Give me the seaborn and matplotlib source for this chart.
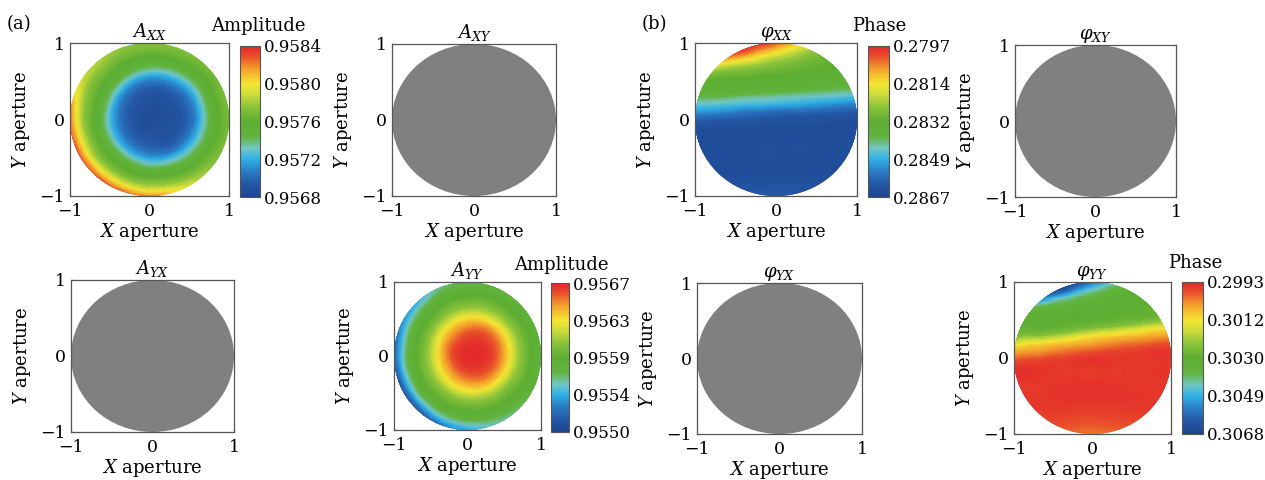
import numpy as np
import matplotlib
matplotlib.use("Agg")
import matplotlib.pyplot as plt
import matplotlib.tri as mtri
from matplotlib.colors import LinearSegmentedColormap, Normalize
from matplotlib.cm import ScalarMappable
from matplotlib.patches import Circle
import seaborn as sns

sns.set_theme(style="white")
plt.rcParams.update({
    "font.family": ["DejaVu Serif"],
    "mathtext.fontset": "dejavuserif",
    "font.size": 13,
    "text.color": "black",
    "axes.labelcolor": "black",
    "xtick.color": "black",
    "ytick.color": "black",
})

# ---------------------------------------------------------------------------
# Amplitude maps: sampled on rings x azimuths around the pupil centre
ring_radius = [0.25, 0.5, 0.65, 0.8, 0.92, 1.04]
azimuth_deg = [0, 30, 60, 90, 120, 150, 180, 210, 240, 270, 300, 330]

# Amplitude A_XX (rows = rings, columns = azimuths)
a_xx_center = 0.95686
a_xx = [
    [0.95688, 0.95688, 0.95688, 0.95689, 0.95691, 0.95693, 0.95694, 0.95694, 0.95693, 0.95692, 0.95690, 0.95689],
    [0.95700, 0.95700, 0.95703, 0.95707, 0.95714, 0.95722, 0.95726, 0.95727, 0.95724, 0.95717, 0.95709, 0.95704],
    [0.95724, 0.95723, 0.95728, 0.95735, 0.95744, 0.95751, 0.95753, 0.95754, 0.95752, 0.95747, 0.95739, 0.95730],
    [0.95752, 0.95752, 0.95754, 0.95758, 0.95762, 0.95767, 0.95773, 0.95775, 0.95773, 0.95769, 0.95761, 0.95755],
    [0.95764, 0.95764, 0.95766, 0.95769, 0.95774, 0.95782, 0.95800, 0.95805, 0.95803, 0.95795, 0.95779, 0.95767],
    [0.95772, 0.95772, 0.95774, 0.95777, 0.95781, 0.95795, 0.95836, 0.95840, 0.95840, 0.95833, 0.95799, 0.95775],
]

# Amplitude A_YY
a_yy_center = 0.95668
a_yy = [
    [0.95666, 0.95666, 0.95665, 0.95662, 0.95658, 0.95656, 0.95653, 0.95652, 0.95654, 0.95657, 0.95661, 0.95664],
    [0.95641, 0.95643, 0.95639, 0.95631, 0.95623, 0.95616, 0.95611, 0.95611, 0.95614, 0.95620, 0.95628, 0.95636],
    [0.95613, 0.95614, 0.95610, 0.95604, 0.95598, 0.95593, 0.95591, 0.95591, 0.95592, 0.95595, 0.95601, 0.95607],
    [0.95592, 0.95592, 0.95590, 0.95587, 0.95582, 0.95576, 0.95571, 0.95570, 0.95572, 0.95579, 0.95585, 0.95589],
    [0.95580, 0.95581, 0.95578, 0.95574, 0.95565, 0.95553, 0.95543, 0.95538, 0.95544, 0.95556, 0.95569, 0.95577],
    [0.95571, 0.95571, 0.95568, 0.95563, 0.95549, 0.95527, 0.95508, 0.95500, 0.95509, 0.95535, 0.95555, 0.95566],
]

# Phase maps: sampled on a Cartesian grid (rows = y from top, columns = x)
grid_x = [-1.0, -0.75, -0.5, -0.25, 0.0, 0.25, 0.5, 0.75, 1.0]
grid_y = [1.0, 0.9, 0.8, 0.7, 0.6, 0.5, 0.4, 0.3, 0.2, 0.1, 0.0, -0.1, -0.3, -0.6, -1.0]

# Phase phi_XX
p_xx = [
    [0.27970, 0.27970, 0.27970, 0.27970, 0.28031, 0.28113, 0.28197, 0.28258, 0.28299],
    [0.27970, 0.27970, 0.27989, 0.28051, 0.28121, 0.28190, 0.28247, 0.28288, 0.28311],
    [0.27991, 0.28040, 0.28097, 0.28153, 0.28210, 0.28249, 0.28286, 0.28305, 0.28322],
    [0.28126, 0.28169, 0.28212, 0.28242, 0.28271, 0.28292, 0.28307, 0.28321, 0.28331],
    [0.28250, 0.28270, 0.28288, 0.28298, 0.28308, 0.28318, 0.28325, 0.28332, 0.28339],
    [0.28315, 0.28320, 0.28324, 0.28328, 0.28332, 0.28335, 0.28339, 0.28343, 0.28347],
    [0.28340, 0.28344, 0.28347, 0.28351, 0.28355, 0.28368, 0.28381, 0.28394, 0.28406],
    [0.28383, 0.28395, 0.28408, 0.28420, 0.28430, 0.28440, 0.28449, 0.28459, 0.28468],
    [0.28451, 0.28461, 0.28469, 0.28478, 0.28487, 0.28496, 0.28511, 0.28526, 0.28540],
    [0.28513, 0.28528, 0.28543, 0.28558, 0.28572, 0.28580, 0.28588, 0.28596, 0.28604],
    [0.28589, 0.28597, 0.28605, 0.28613, 0.28621, 0.28624, 0.28628, 0.28631, 0.28635],
    [0.28628, 0.28632, 0.28635, 0.28639, 0.28642, 0.28642, 0.28642, 0.28642, 0.28642],
    [0.28642, 0.28642, 0.28642, 0.28642, 0.28642, 0.28642, 0.28642, 0.28642, 0.28642],
    [0.28642, 0.28642, 0.28642, 0.28642, 0.28642, 0.28642, 0.28642, 0.28642, 0.28642],
    [0.28628, 0.28621, 0.28614, 0.28607, 0.28607, 0.28607, 0.28614, 0.28621, 0.28628],
]

# Phase phi_YY
p_yy = [
    [0.30680, 0.30680, 0.30680, 0.30672, 0.30568, 0.30437, 0.30366, 0.30326, 0.30308],
    [0.30680, 0.30680, 0.30665, 0.30556, 0.30442, 0.30377, 0.30333, 0.30315, 0.30302],
    [0.30680, 0.30610, 0.30500, 0.30423, 0.30373, 0.30334, 0.30319, 0.30307, 0.30296],
    [0.30496, 0.30433, 0.30386, 0.30353, 0.30329, 0.30317, 0.30307, 0.30299, 0.30291],
    [0.30370, 0.30344, 0.30329, 0.30319, 0.30311, 0.30304, 0.30298, 0.30292, 0.30263],
    [0.30317, 0.30311, 0.30307, 0.30302, 0.30298, 0.30293, 0.30282, 0.30257, 0.30232],
    [0.30301, 0.30296, 0.30292, 0.30274, 0.30248, 0.30223, 0.30187, 0.30145, 0.30111],
    [0.30265, 0.30240, 0.30215, 0.30173, 0.30132, 0.30104, 0.30083, 0.30062, 0.30041],
    [0.30160, 0.30118, 0.30097, 0.30076, 0.30055, 0.30034, 0.30016, 0.30001, 0.29984],
    [0.30069, 0.30049, 0.30028, 0.30011, 0.29995, 0.29979, 0.29966, 0.29956, 0.29952],
    [0.30006, 0.29989, 0.29973, 0.29962, 0.29952, 0.29952, 0.29952, 0.29952, 0.29952],
    [0.29958, 0.29952, 0.29952, 0.29952, 0.29952, 0.29952, 0.29952, 0.29952, 0.29952],
    [0.29952, 0.29952, 0.29952, 0.29952, 0.29952, 0.29952, 0.29952, 0.29952, 0.29952],
    [0.29952, 0.29952, 0.29952, 0.29952, 0.29952, 0.29952, 0.29952, 0.29952, 0.29952],
    [0.29968, 0.29983, 0.29998, 0.30005, 0.30013, 0.30005, 0.29998, 0.29983, 0.29968],
]

# Colour-bar ranges and tick labels
amp_xx_range = (0.9568, 0.9584)
amp_xx_labels = ["0.9568", "0.9572", "0.9576", "0.9580", "0.9584"]
amp_yy_range = (0.9550, 0.9567)
amp_yy_labels = ["0.9550", "0.9554", "0.9559", "0.9563", "0.9567"]
ph_xx_range = (0.2797, 0.2867)
ph_xx_labels = ["0.2797", "0.2814", "0.2832", "0.2849", "0.2867"]
ph_yy_range = (0.2993, 0.3068)
ph_yy_labels = ["0.2993", "0.3012", "0.3030", "0.3049", "0.3068"]

# ---------------------------------------------------------------------------
cmap_pos = [0.00, 0.08, 0.17, 0.25, 0.32, 0.40, 0.50, 0.60, 0.68, 0.75, 0.85, 0.93, 1.00]
cmap_hex = ["#1d4590", "#2456a4", "#2a7cc4", "#2fb1e6", "#72c6c6", "#63b43f", "#5dae33",
            "#8cc43a", "#cddc3a", "#f6e633", "#f3a02c", "#e9512b", "#e3242b"]
jet_like = LinearSegmentedColormap.from_list("aperture", list(zip(cmap_pos, cmap_hex)))
jet_like_r = jet_like.reversed()

W, H = 1265, 480
fig = plt.figure(figsize=(W / 100, H / 100), dpi=100)
TICK_FS = 12.5
CB_TICK_FS = 12


def rect(l, t, r, b):
    return [l / W, 1 - b / H, (r - l) / W, (b - t) / H]


def style_axes(ax, title):
    ax.set_xlim(-1, 1)
    ax.set_ylim(-1, 1)
    ax.set_xticks([-1, 0, 1])
    ax.set_yticks([-1, 0, 1])
    ax.tick_params(bottom=True, left=True, direction="in", length=3, width=0.8,
                   color="#333333", labelsize=TICK_FS)
    ax.tick_params(axis="x", pad=5)
    ax.tick_params(axis="y", pad=4)
    ax.set_xlabel("$X$ aperture", fontsize=13, labelpad=1)
    ax.set_ylabel("$Y$ aperture", fontsize=13, labelpad=5)
    ax.set_title(title, fontsize=13, pad=4)
    for s in ax.spines.values():
        s.set_color("#555555")
        s.set_linewidth(0.9)
    ax.set_facecolor("white")


def smooth_fill(ax, x, y, z, norm, cmap):
    tri = mtri.Triangulation(x, y)
    interp = mtri.CubicTriInterpolator(tri, z, kind="min_E")
    tri_f, z_f = mtri.UniformTriRefiner(tri).refine_field(z, triinterpolator=interp, subdiv=4)
    coll = ax.tripcolor(tri_f, z_f, shading="gouraud", cmap=cmap, norm=norm)
    coll.set_clip_path(Circle((0, 0), 1, transform=ax.transData))


def draw_polar_field(ax, center, table, norm, cmap):
    R, T = np.meshgrid(np.asarray(ring_radius), np.deg2rad(azimuth_deg), indexing="ij")
    x = np.concatenate([[0.0], (R * np.cos(T)).ravel()])
    y = np.concatenate([[0.0], (R * np.sin(T)).ravel()])
    z = np.concatenate([[center], np.asarray(table).ravel()])
    smooth_fill(ax, x, y, z, norm, cmap)


def draw_grid_field(ax, table, norm, cmap):
    X, Y = np.meshgrid(grid_x, grid_y)
    smooth_fill(ax, X.ravel(), Y.ravel(), np.asarray(table).ravel(), norm, cmap)


def draw_gray(ax):
    ax.add_patch(Circle((0, 0), 1, facecolor="#808080", edgecolor="none"))


def add_colorbar(box, rng, labels, cmap, reverse):
    cax = fig.add_axes(rect(*box))
    norm = Normalize(*rng)
    cb = fig.colorbar(ScalarMappable(norm=norm, cmap=cmap), cax=cax)
    cb.set_ticks(np.linspace(rng[0], rng[1], len(labels)))
    cb.set_ticklabels(labels)
    if reverse:
        cax.invert_yaxis()
    cax.tick_params(right=True, direction="in", length=2.5, width=0.8,
                    color="#333333", labelsize=CB_TICK_FS, pad=3)
    cb.outline.set_edgecolor("#555555")
    cb.outline.set_linewidth(0.8)


# (a) amplitude panels
ax = fig.add_axes(rect(70, 43, 229, 196))
draw_polar_field(ax, a_xx_center, a_xx, Normalize(*amp_xx_range), jet_like)
style_axes(ax, "$A_{XX}$")
add_colorbar((240, 46, 260, 197), amp_xx_range, amp_xx_labels, jet_like, False)
fig.text(258 / W, 1 - 31 / H, "Amplitude", ha="center", va="baseline", fontsize=13)

ax = fig.add_axes(rect(392, 44, 556, 196))
draw_gray(ax)
style_axes(ax, "$A_{XY}$")

ax = fig.add_axes(rect(71, 280, 234, 432))
draw_gray(ax)
style_axes(ax, "$A_{YX}$")

ax = fig.add_axes(rect(394, 282, 541, 430))
draw_polar_field(ax, a_yy_center, a_yy, Normalize(*amp_yy_range), jet_like)
style_axes(ax, "$A_{YY}$")
add_colorbar((551, 283, 569, 432), amp_yy_range, amp_yy_labels, jet_like, False)
fig.text(561 / W, 1 - 270 / H, "Amplitude", ha="center", va="baseline", fontsize=13)

# (b) phase panels
ax = fig.add_axes(rect(695, 43, 857, 196))
draw_grid_field(ax, p_xx, Normalize(*ph_xx_range), jet_like_r)
style_axes(ax, r"$\varphi_{XX}$")
add_colorbar((868, 46, 889, 197), ph_xx_range, ph_xx_labels, jet_like_r, True)
fig.text(879 / W, 1 - 31 / H, "Phase", ha="center", va="baseline", fontsize=13)

ax = fig.add_axes(rect(1015, 45, 1176, 197))
draw_gray(ax)
style_axes(ax, r"$\varphi_{XY}$")

ax = fig.add_axes(rect(697, 283, 862, 434))
draw_gray(ax)
style_axes(ax, r"$\varphi_{YX}$")

ax = fig.add_axes(rect(1014, 282, 1171, 434))
draw_grid_field(ax, p_yy, Normalize(*ph_yy_range), jet_like_r)
style_axes(ax, r"$\varphi_{YY}$")
add_colorbar((1182, 282, 1203, 434), ph_yy_range, ph_yy_labels, jet_like_r, True)
fig.text(1195 / W, 1 - 268 / H, "Phase", ha="center", va="baseline", fontsize=13)

fig.text(7 / W, 1 - 29 / H, "(a)", ha="left", va="baseline", fontsize=13)
fig.text(642 / W, 1 - 29 / H, "(b)", ha="left", va="baseline", fontsize=13)

fig.savefig("out.png", dpi=100, facecolor="white")
